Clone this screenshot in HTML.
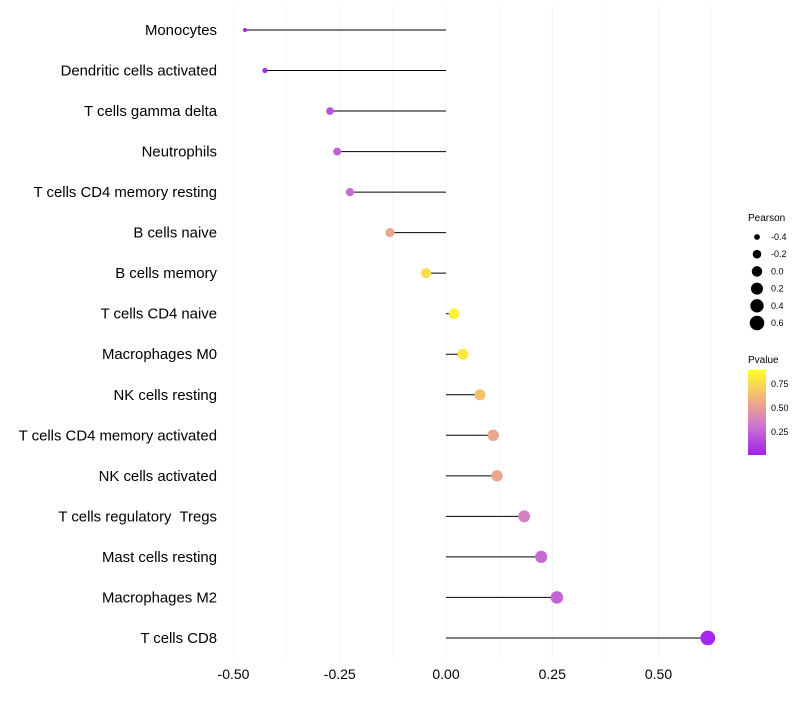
<!DOCTYPE html>
<html><head><meta charset="utf-8"><style>
body{margin:0;background:#fff;font-family:"Liberation Sans",sans-serif}
</style></head><body>
<svg id="chart" width="800" height="700" xmlns="http://www.w3.org/2000/svg">
<defs><linearGradient id="pg" x1="0" y1="1" x2="0" y2="0">
<stop offset="0" stop-color="#a020f0"/><stop offset="0.35" stop-color="#cc77cc"/><stop offset="0.65" stop-color="#f0b080"/><stop offset="1" stop-color="#ffff20"/></linearGradient></defs>
<g id="grid"></g><g id="marks"></g><g id="labels"></g>
<g font-size="9" fill="#000">
<text x="748" y="221" font-size="10">Pearson</text>
<g id="sizeLegend"></g>
</g>
<g font-size="9">
<text x="748" y="363" font-size="10">Pvalue</text>
<rect x="748" y="370" width="18" height="85" fill="url(#pg)"/>
<text x="771" y="387">0.75</text><text x="771" y="411">0.50</text><text x="771" y="435">0.25</text>
</g>
</svg>
<script>
const categories=["Monocytes","Dendritic cells activated","T cells gamma delta","Neutrophils","T cells CD4 memory resting","B cells naive","B cells memory","T cells CD4 naive","Macrophages M0","NK cells resting","T cells CD4 memory activated","NK cells activated","T cells regulatory  Tregs","Mast cells resting","Macrophages M2","T cells CD8"];
const pearson=[-0.473,-0.426,-0.273,-0.256,-0.226,-0.132,-0.047,0.019,0.040,0.080,0.111,0.120,0.184,0.224,0.261,0.616];
const pvalues=[0.01,0.05,0.2,0.25,0.3,0.6,0.85,0.95,0.9,0.72,0.6,0.6,0.4,0.3,0.27,0.03];
const xTicks=[-0.5,-0.25,0,0.25,0.5];
const xTickLabels=["-0.50","-0.25","0.00","0.25","0.50"];
const sizeLegend=[-0.4,-0.2,0.0,0.2,0.4,0.6];
const NS="http://www.w3.org/2000/svg";
const x=v=>446+v*425;
const y=i=>30+i*40.53;
const r=v=>1+6*Math.sqrt(Math.max(0,v+0.5));
function col(p){const st=[[0,[160,32,240]],[0.35,[204,119,204]],[0.65,[240,176,128]],[1,[255,255,32]]];
for(let k=1;k<st.length;k++){if(p<=st[k][0]){const a=st[k-1],b=st[k],t=(p-a[0])/(b[0]-a[0]);return "rgb("+a[1].map((c,j)=>Math.round(c+(b[1][j]-c)*t)).join(",")+")";}}return "rgb(255,255,32)";}
function mk(t,a,p){const e=document.createElementNS(NS,t);for(const k in a)e.setAttribute(k,a[k]);p.appendChild(e);return e;}
const g=document.getElementById("grid"),m=document.getElementById("marks"),L=document.getElementById("labels");
for(let v=-0.5;v<=0.625;v+=0.125){const l=mk("line",{x1:x(v),x2:x(v),y1:5,y2:660,stroke:"#f3f3f3","stroke-width":Math.abs((v*4)%1)<1e-6?1:0.6},g);
}
xTicks.forEach((v,i)=>{const t=mk("text",{x:x(v),y:679,"text-anchor":"middle","font-size":14,fill:"#000"},L);t.textContent=xTickLabels[i];
});
categories.forEach((c,i)=>{const t=mk("text",{x:217,y:y(i)+5,"text-anchor":"end","font-size":14.9,fill:"#000"},L);t.textContent=c;
t.style.whiteSpace='pre';

const ln=mk("line",{x1:x(0),x2:x(pearson[i]),y1:y(i),y2:y(i),stroke:"#000","stroke-width":1},m);

const d=mk("circle",{cx:x(pearson[i]),cy:y(i),r:r(pearson[i]),fill:col(pvalues[i])},m);
});
const sl=document.getElementById("sizeLegend");
sizeLegend.forEach((v,i)=>{const yy=237+i*17.2;const c=mk("circle",{cx:757,cy:yy,r:r(v)},sl);

const t=mk("text",{x:771,y:yy+3},sl);t.textContent=v.toFixed(1);
});
</script>
</body></html>
